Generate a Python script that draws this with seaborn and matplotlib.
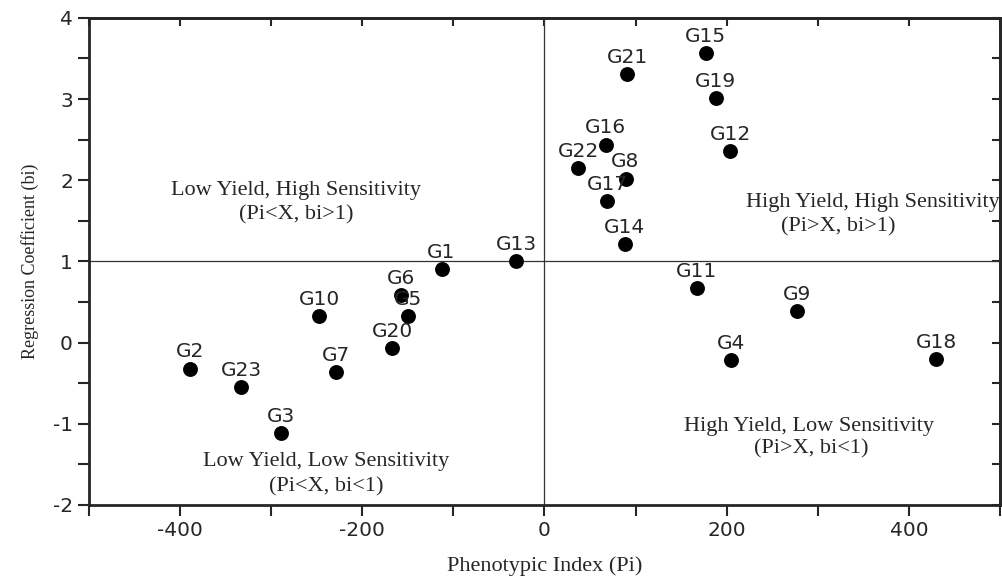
import numpy as np
import pandas as pd
import matplotlib
matplotlib.use("Agg")
import matplotlib.pyplot as plt
import seaborn as sns
from matplotlib.ticker import MultipleLocator

# Genotype data
genotypes = ["G1", "G2", "G3", "G4", "G5", "G6", "G7", "G8", "G9", "G10", "G11", "G12",
             "G13", "G14", "G15", "G16", "G17", "G18", "G19", "G20", "G21", "G22", "G23"]
pi_values = [-113, -389, -289, 205, -150, -157, -229, 89, 277, -247, 167, 204,
             -31, 88, 177, 67, 69, 430, 188, -167, 91, 37, -333]
bi_values = [0.91, -0.32, -1.12, -0.22, 0.33, 0.59, -0.36, 2.02, 0.39, 0.33, 0.67, 2.36,
             1.00, 1.21, 3.57, 2.44, 1.74, -0.20, 3.01, -0.07, 3.31, 2.15, -0.55]

quadrant_titles = ["Low Yield, High Sensitivity", "High Yield, High Sensitivity",
                   "Low Yield, Low Sensitivity", "High Yield, Low Sensitivity"]
quadrant_rules = ["(Pi<X, bi>1)", "(Pi>X, bi>1)", "(Pi<X, bi<1)", "(Pi>X, bi<1)"]

df = pd.DataFrame({"Genotype": genotypes, "Pi": pi_values, "bi": bi_values})

sns.set_style("ticks")
plt.rcParams["font.family"] = ["DejaVu Sans"]
plt.rcParams["axes.unicode_minus"] = False

fig = plt.figure(figsize=(10.03, 5.77), dpi=100)
ax = fig.add_axes([0.0887, 0.125, 0.9083, 0.844])

sns.scatterplot(data=df, x="Pi", y="bi", ax=ax, color="black", s=115,
                edgecolor="black", linewidth=0, zorder=3)

for g, x, y in zip(genotypes, pi_values, bi_values):
    ax.annotate(g, (x, y), xytext=(0, 8), textcoords="offset points",
                ha="center", va="baseline", fontsize=14.5)

# reference lines
ax.axvline(0, color="#333333", lw=0.9, zorder=1)
ax.axhline(1, color="#333333", lw=0.9, zorder=1)

# quadrant descriptions
serif = ["Liberation Serif", "DejaVu Serif"]
title_pos = [(-273, 1.87, "center"), (500, 1.72, "right"),
             (-240, -1.47, "center"), (290, -1.03, "center")]
rule_pos = [(-273, 1.57), (322, 1.43), (-240, -1.78), (293, -1.31)]
for (tx, ty, ha), (rx, ry), t, r in zip(title_pos, rule_pos, quadrant_titles, quadrant_rules):
    ax.text(tx, ty, t, ha=ha, va="center", fontsize=16, family=serif)
    ax.text(rx, ry, r, ha="center", va="center", fontsize=16, family=serif)

ax.set_xlim(-500, 500)
ax.set_ylim(-2, 4)
ax.xaxis.set_major_locator(MultipleLocator(200))
ax.xaxis.set_minor_locator(MultipleLocator(100))
ax.yaxis.set_major_locator(MultipleLocator(1))
ax.yaxis.set_minor_locator(MultipleLocator(0.5))

ax.tick_params(axis="both", which="major", direction="out", length=8, width=1.5,
               labelsize=14.5, top=False, right=False)
ax.tick_params(axis="both", which="minor", direction="out", length=8, width=1.5,
               top=False, right=False)

# inward ticks on top and right
axt = ax.secondary_xaxis("top")
axt.xaxis.set_major_locator(MultipleLocator(100))
axt.tick_params(direction="in", length=6, width=1.5, labeltop=False)
axr = ax.secondary_yaxis("right")
axr.yaxis.set_major_locator(MultipleLocator(0.5))
axr.tick_params(direction="in", length=6, width=1.5, labelright=False)

for sp in ax.spines.values():
    sp.set_linewidth(2)
    sp.set_visible(True)
for a in (axt, axr):
    for sp in a.spines.values():
        sp.set_linewidth(2)

ax.set_xlabel("Phenotypic Index (Pi)", fontsize=16, family=serif, labelpad=12)
ax.set_ylabel("Regression Coefficient (bi)", fontsize=13, family=serif, labelpad=10)

fig.savefig("out.png", dpi=100)
